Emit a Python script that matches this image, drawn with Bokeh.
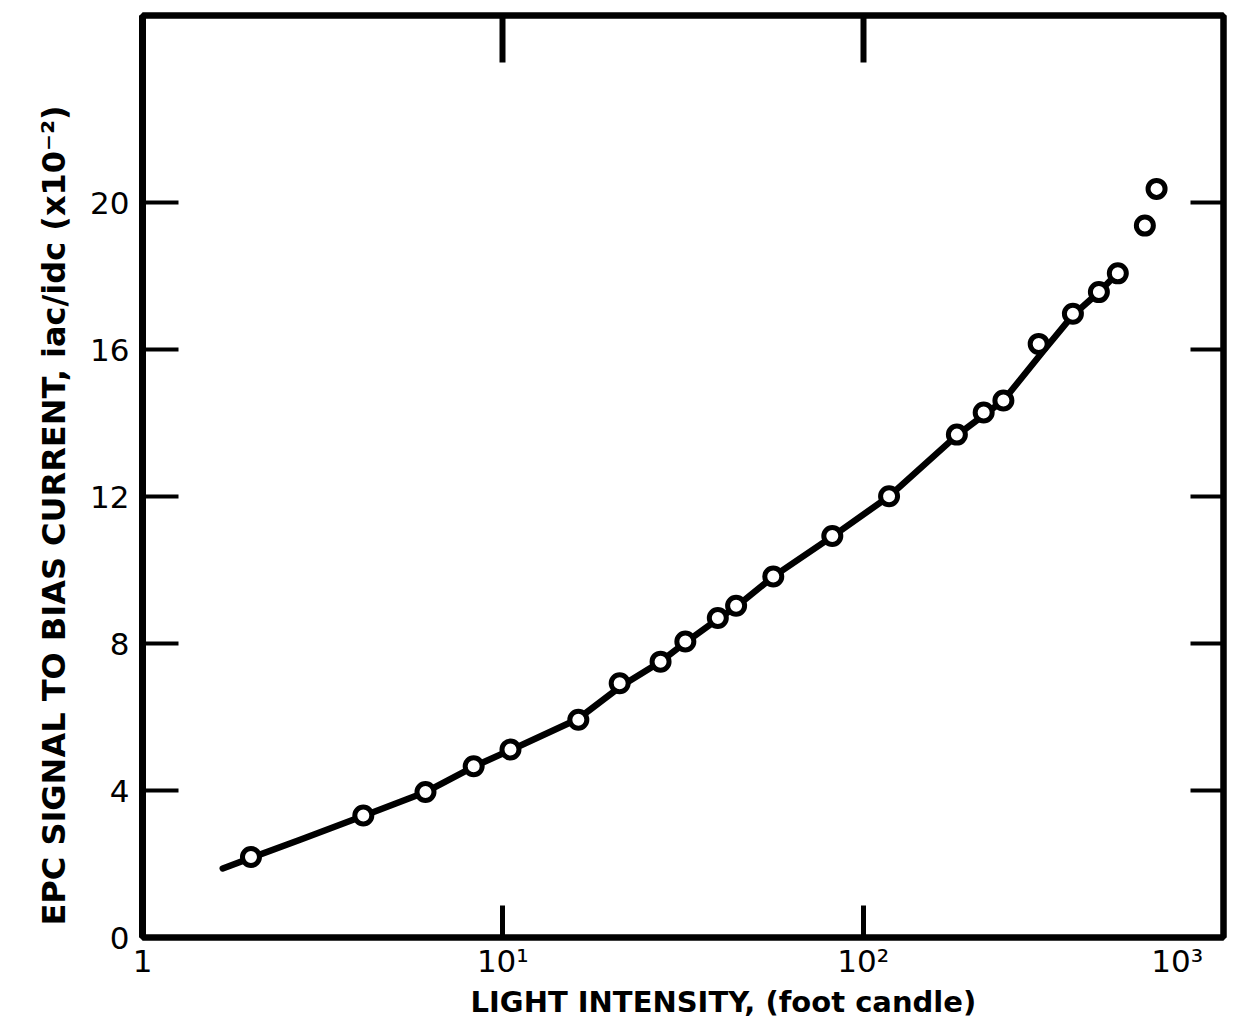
from bokeh.plotting import figure
from bokeh.models import LogAxis, LinearAxis, FixedTicker
from bokeh.embed import file_html
from bokeh.resources import INLINE

# ---------------- data ----------------
light_fc = [2.0, 4.1, 6.1, 8.3, 10.5, 16.2, 21.1, 27.4, 32.1, 39.5, 44.4, 56.3,
            82.1, 118, 182, 216, 245, 307, 382, 451, 509, 605, 652]
epc_ratio = [2.19, 3.32, 3.96, 4.66, 5.12, 5.93, 6.92, 7.51, 8.06, 8.70, 9.03, 9.83,
             10.93, 12.01, 13.69, 14.29, 14.62, 16.16, 16.98, 17.57, 18.08, 19.38, 20.38]
fit_fc = [1.67, 2.75, 4.13, 6.14, 8.34, 10.6, 16.1, 21.2, 27.4, 32.1, 39.4, 44.5,
          56.4, 82.2, 118, 182, 245, 317, 381, 450, 511]
fit_ratio = [1.88, 2.67, 3.32, 3.97, 4.66, 5.12, 5.94, 6.83, 7.51, 8.03, 8.66, 9.01,
             9.83, 10.92, 12.01, 13.67, 14.62, 15.98, 16.93, 17.56, 18.11]
x_ticks = [1, 10, 100, 1000]
x_tick_labels = ["1", "10\u00b9", "10\u00b2", "10\u00b3\u00a0\u00a0\u00a0\u00a0"]
y_ticks = [0, 4, 8, 12, 16, 20]
x_title = "LIGHT INTENSITY, (foot candle)"
y_title = "EPC SIGNAL TO BIAS CURRENT, iac/idc (x10\u207b\u00b2)"

# ---------------- layout ----------------
W, H = 1242, 1024
L, R, T, B = 142, 1223, 15, 937
X_RANGE = (1, 1000)
Y_RANGE = (0, 25.1)
FONT = "DejaVu Sans"
NB = "\u00a0"

p = figure(width=W, height=H, x_axis_type="log", x_range=X_RANGE, y_range=Y_RANGE,
           output_backend="svg", toolbar_location=None,
           min_border_left=L, min_border_right=W - R, min_border_top=T,
           min_border_bottom=H - B)
p.grid.visible = False
p.background_fill_color = "white"
p.border_fill_color = "white"
p.outline_line_color = "black"
p.outline_line_width = 6

xa = p.xaxis[0]
xa.ticker = FixedTicker(ticks=x_ticks)
xa.major_label_overrides = {t: s for t, s in zip(x_ticks, x_tick_labels)}
xa.major_tick_in = 32
xa.major_tick_out = 0
xa.major_tick_line_width = 5
xa.minor_tick_line_color = None
xa.axis_line_width = 6
xa.major_label_text_font = FONT
xa.major_label_text_font_size = "31px"
xa.major_label_standoff = 5
xa.major_label_text_color = "black"
xa.axis_label = NB * 8 + x_title
xa.axis_label_text_font = FONT
xa.axis_label_text_font_size = "29px"
xa.axis_label_text_font_style = "bold"
xa.axis_label_standoff = 3
xa.axis_label_text_color = "black"

ya = p.yaxis[0]
ya.ticker = FixedTicker(ticks=y_ticks)
ya.major_tick_in = 36
ya.major_tick_out = 0
ya.major_tick_line_width = 4
ya.minor_tick_line_color = None
ya.axis_line_width = 7
ya.major_label_text_font = FONT
ya.major_label_text_font_size = "31px"
ya.major_label_standoff = 13
ya.major_label_text_color = "black"
ya.axis_label = y_title + NB * 7
ya.axis_label_text_font = FONT
ya.axis_label_text_font_size = "32px"
ya.axis_label_text_font_style = "bold"
ya.axis_label_standoff = 14
ya.axis_label_text_color = "black"

top = LogAxis(ticker=FixedTicker(ticks=[10, 100]), major_tick_in=47, major_tick_out=0,
              major_tick_line_width=6, minor_tick_line_color=None, axis_line_width=6,
              major_label_text_font_size="1px", major_label_text_alpha=0,
              major_label_standoff=0)
p.add_layout(top, "above")

right = LinearAxis(ticker=FixedTicker(ticks=y_ticks[1:]), major_tick_in=33, major_tick_out=0,
                   major_tick_line_width=4, minor_tick_line_color=None, axis_line_width=6,
                   major_label_text_font_size="1px", major_label_text_alpha=0,
                   major_label_standoff=0)
p.add_layout(right, "right")

# ---------------- marks ----------------
p.line(fit_fc, fit_ratio, line_width=6.5, line_color="black", line_cap="round", line_join="round")
p.scatter(light_fc, epc_ratio, marker="circle", size=17, line_width=5,
          line_color="black", fill_color="white")

open("out.html", "w").write(file_html(p, INLINE))
